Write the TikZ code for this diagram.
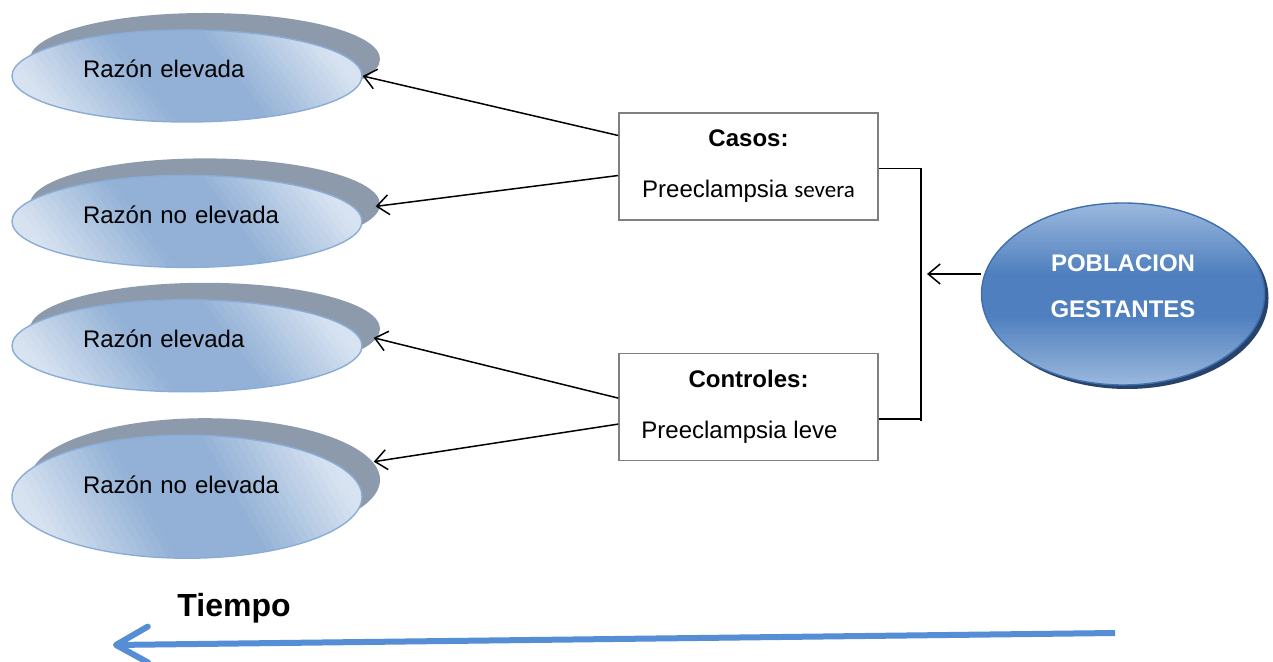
\documentclass[tikz,border=0pt]{standalone}
\usepackage{fontspec}
\setmainfont{Liberation Sans}
\newfontfamily\carlito{Carlito}
\usetikzlibrary{positioning,shapes.geometric,shadows,arrows.meta}
\definecolor{razonclaro}{HTML}{D8E3F1}
\definecolor{razonmedio}{HTML}{93B1D6}
\definecolor{razonborde}{HTML}{8AADD8}
\definecolor{sombragris}{HTML}{8D9AAB}
\definecolor{poblclaro}{HTML}{9AB8DD}
\definecolor{poblmedio}{HTML}{4F7FBE}
\definecolor{poblborde}{HTML}{3F6FAD}
\definecolor{poblsombra}{HTML}{27436B}
\definecolor{tiempoazul}{HTML}{558ED5}
\tikzset{razon fondo/.style={path picture={
			\foreach \i in {0,...,54}{
				\pgfmathsetmacro\a{\i*4-2}
				\pgfmathsetmacro\b{\i*4+2.6}
				\pgfmathsetmacro\c{\a-35}
				\pgfmathsetmacro\d{\b-35}
				\pgfmathtruncatemacro\m{max(0,min(100,140-abs((\i*4-17.5)/175-0.5)*300))}
				\fill[razonmedio!\m!razonclaro] ([xshift=\a pt]path picture bounding box.south west) -- ([xshift=\b pt]path picture bounding box.south west)
				-- ([xshift=\d pt]path picture bounding box.north west) -- ([xshift=\c pt]path picture bounding box.north west) -- cycle;
	}}},
	poblacion fondo/.style={path picture={
			\foreach \i in {0,...,46}{
				\pgfmathsetmacro\a{-\i*2+0.5}
				\pgfmathsetmacro\b{-\i*2-2.5}
				\pgfmathtruncatemacro\m{max(0,min(100,130-abs(\i*2/91-0.5)*260))}
				\fill[poblmedio!\m!poblclaro] ([yshift=\a pt]path picture bounding box.north west) rectangle ([yshift=\b pt]path picture bounding box.north east);
	}}},
	razon node/.style={ellipse,draw=razonborde,line width=0.7pt,minimum width=175pt,minimum height=46pt,inner sep=0pt,
		text width=104pt,align=left,text depth=7pt,fill=razonclaro,razon fondo,
		general shadow={shadow xshift=9pt,shadow yshift=8.5pt,fill=sombragris}},
	grupo node/.style={rectangle,draw=gray,line width=0.8pt,minimum width=129.5pt,minimum height=53.5pt,align=center},
	poblacion node/.style={ellipse,draw=poblborde,line width=0.7pt,minimum width=141.5pt,minimum height=91pt,inner sep=0pt,
		fill=poblclaro,poblacion fondo,text=white,font=\bfseries\fontsize{12}{14.4}\selectfont,
		align=center,text depth=8pt,
		drop shadow={shadow xshift=2pt,shadow yshift=-2pt,fill=poblsombra,opacity=1}},
	flecha/.style={-{Straight Barb[length=6pt,width=10pt]},line width=0.75pt},
	linea/.style={line width=0.75pt},
}
\begin{document}
\begin{tikzpicture}[x=0.5pt,y=0.5pt,font=\fontsize{12}{14.4}\selectfont]
	\useasboundingbox (0,0) rectangle (1273,-662);
	\node[razon node] (e1) at (187,-76) {Razón elevada};
	\node[razon node] (e2) [below=26pt of e1] {Razón no elevada};
	\node[razon node] (e3) [below=15.5pt of e2] {Razón elevada};
	\node[razon node,minimum height=61.5pt,text depth=12pt] (e4) [below=21pt of e3] {Razón no elevada};
	\node[grupo node] (casos) at (748.5,-166.5) {\textbf{Casos:}\\[11pt]Preeclampsia {\carlito\fontsize{11.5}{14}\selectfont severa}};
	\node[grupo node] (controles) [below=66pt of casos] {\textbf{Controles:}\\[11pt]Preeclampsia leve\hspace*{9pt}};
	\node[poblacion node] (pobl) at (1123,-294) {POBLACION\\[8.6pt]GESTANTES};
	\node[font=\bfseries\fontsize{16}{19}\selectfont] (tiempo) at (234,-608) {Tiempo};
	\coordinate (llave) at (921,-421);
	\coordinate (entrada) at (927,-274);
	\coordinate (t0) at (1115,-633);
	\coordinate (t1) at (113,-645);
	
	\path[linea]
	([shift={(0,31)}]casos.west) edge[flecha] (e1.east)
	([shift={(0,-9)}]casos.west) edge[flecha] ([shift={(13,15)}]e2.east)
	([shift={(0,9)}]controles.west) edge[flecha] ([shift={(11,8)}]e3.east)
	([shift={(0,-17)}]controles.west) edge[flecha] ([shift={(11,35)}]e4.east);
	\draw[linea] ([shift={(0,-2)}]casos.east) -| (llave);
	\draw[linea] ([shift={(0,-12)}]controles.east) -| (llave);
	\draw[flecha] ([yshift=10pt]pobl.west) -- (entrada);
	\draw[tiempoazul,line width=3pt,-{Straight Barb[length=16pt,width=18pt,round]}] (t0) -- (t1);
\end{tikzpicture}
\end{document}
